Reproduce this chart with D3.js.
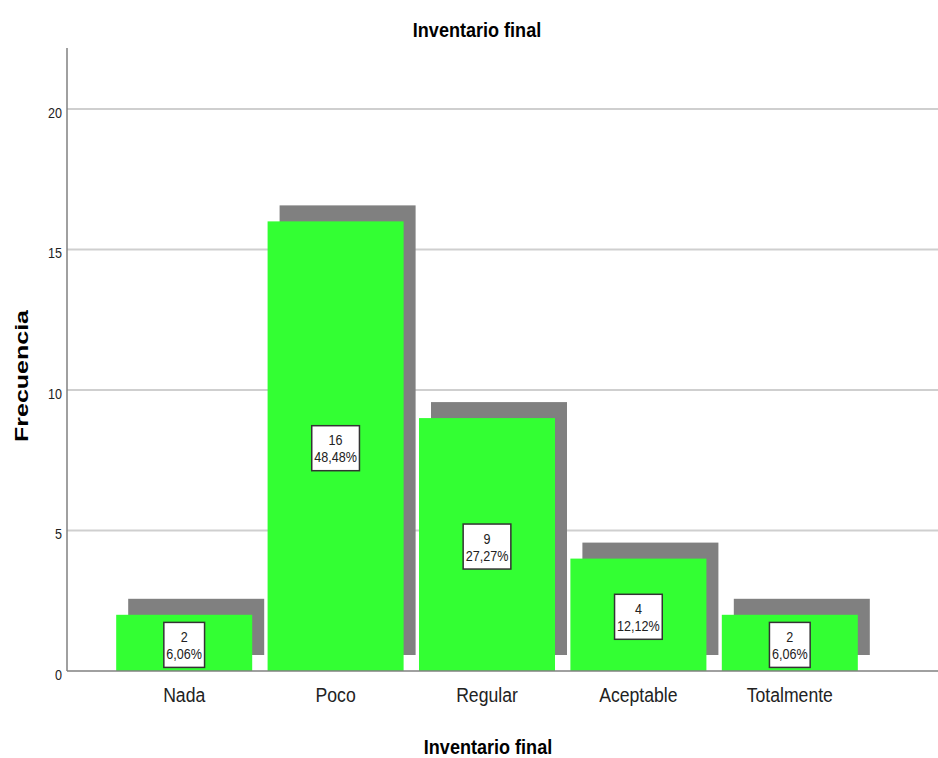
<!DOCTYPE html>
<html>
<head>
<meta charset="utf-8">
<script src="https://cdn.jsdelivr.net/npm/d3@7"></script>
<style>
  body { margin: 0; background: #fff; }
  svg { display: block; }
  text { font-family: "Liberation Sans", Arial, sans-serif; }
</style>
</head>
<body>
<script>
const categories = ["Nada", "Poco", "Regular", "Aceptable", "Totalmente"];
const counts = [2, 16, 9, 4, 2];
const percents = ["6,06%", "48,48%", "27,27%", "12,12%", "6,06%"];
const yTicks = [0, 5, 10, 15, 20];

const width = 938;
const height = 758;
const margin = { top: 48, right: 0, bottom: 87, left: 67 };
const narrow = 0.84; // fake Arial Narrow by squeezing Liberation Sans

const svg = d3.select("body")
  .append("svg")
  .attr("width", width)
  .attr("height", height);

const x = d3.scaleBand()
  .domain(categories)
  .range([108.5, 865.5])
  .paddingInner(0.1017)
  .paddingOuter(0.0508);

const y = d3.scaleLinear()
  .domain([0, 22.17])
  .range([height - margin.bottom, margin.top]);

// gridlines
svg.append("g")
  .selectAll("line")
  .data(yTicks.filter((d) => d > 0))
  .join("line")
  .attr("x1", margin.left)
  .attr("x2", width)
  .attr("y1", (d) => y(d))
  .attr("y2", (d) => y(d))
  .attr("stroke", "#cfcfcf")
  .attr("stroke-width", 2);

// shadow bars
const dx = 12, dy = -16;
svg.append("g")
  .selectAll("rect")
  .data(categories)
  .join("rect")
  .attr("x", (d) => x(d) + dx)
  .attr("y", (d, i) => y(counts[i]) + dy)
  .attr("width", x.bandwidth())
  .attr("height", (d, i) => y(0) - y(counts[i]))
  .attr("fill", "#808080");

// bars
svg.append("g")
  .selectAll("rect")
  .data(categories)
  .join("rect")
  .attr("x", (d) => x(d))
  .attr("y", (d, i) => y(counts[i]))
  .attr("width", x.bandwidth())
  .attr("height", (d, i) => y(0) - y(counts[i]))
  .attr("fill", "#33ff33");

// y axis
const yAxis = d3.axisLeft(y).tickValues(yTicks).tickSize(0).tickPadding(6);
const yg = svg.append("g")
  .attr("transform", `translate(${margin.left},0)`)
  .call(yAxis);
yg.select(".domain").remove();
yg.attr("font-family", null);
yg.selectAll("text")
  .attr("font-size", 15)
  .attr("fill", "#222")
  .attr("dy", "0.55em")
  .attr("transform", `scale(${narrow},1)`);

svg.append("line")
  .attr("x1", margin.left).attr("x2", margin.left)
  .attr("y1", margin.top).attr("y2", y(0))
  .attr("stroke", "#808080").attr("stroke-width", 1.5);

// x axis
const xAxis = d3.axisBottom(x).tickSize(0).tickPadding(16);
const xg = svg.append("g")
  .attr("transform", `translate(0,${y(0)})`)
  .call(xAxis);
xg.select(".domain").remove();
xg.attr("font-family", null);
xg.selectAll("text")
  .attr("font-size", 21)
  .attr("fill", "#222")
  .attr("transform", `scale(${narrow},1)`);

svg.append("line")
  .attr("x1", margin.left).attr("x2", width)
  .attr("y1", y(0)).attr("y2", y(0))
  .attr("stroke", "#808080").attr("stroke-width", 1.5);

// value labels
const labels = svg.append("g")
  .selectAll("g")
  .data(categories)
  .join("g")
  .attr("transform", (d, i) => `translate(${x(d) + x.bandwidth() / 2},${(y(counts[i]) + y(0)) / 2 + 2})`);

labels.each(function (d, i) {
  const g = d3.select(this);
  const rect = g.append("rect");
  const t = g.append("text")
    .attr("font-size", 15)
    .attr("text-anchor", "middle")
    .attr("fill", "#222")
    .attr("transform", `scale(${narrow},1)`);
  t.append("tspan").attr("x", 0).attr("y", -3).text(counts[i]);
  t.append("tspan").attr("x", 0).attr("y", 14).text(percents[i]);
  const w = Math.max(t.node().getBBox().width * narrow + 5, 40);
  rect.attr("x", -w / 2).attr("y", -22.5)
    .attr("width", w).attr("height", 45)
    .attr("fill", "#fff")
    .attr("stroke", "#333")
    .attr("stroke-width", 1.5);
});

// titles
svg.append("text")
  .attr("transform", `translate(477,37) scale(0.86,1)`)
  .attr("text-anchor", "middle")
  .attr("font-size", 21)
  .attr("font-weight", "bold")
  .text("Inventario final");

svg.append("text")
  .attr("transform", `translate(488,754) scale(0.86,1)`)
  .attr("text-anchor", "middle")
  .attr("font-size", 21)
  .attr("font-weight", "bold")
  .text("Inventario final");

svg.append("text")
  .attr("transform", "translate(28,376) rotate(-90)")
  .attr("text-anchor", "middle")
  .attr("font-size", 18)
  .attr("font-weight", "bold")
  .attr("textLength", 132)
  .attr("lengthAdjust", "spacingAndGlyphs")
  .text("Frecuencia");
</script>
</body>
</html>
